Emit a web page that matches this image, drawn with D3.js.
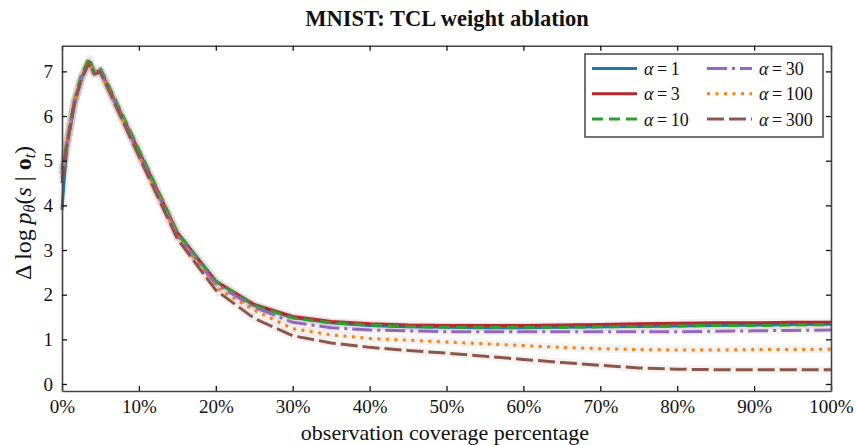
<!DOCTYPE html>
<html>
<head>
<meta charset="utf-8">
<script src="https://cdn.jsdelivr.net/npm/d3@7"></script>
<style>
  body { margin: 0; background: #fff; }
  svg { display: block; }
  text { font-family: "Liberation Serif", "Times New Roman", serif; fill: #111; }
</style>
</head>
<body>
<svg id="chart" width="857" height="445"></svg>
<script>
// ---- data ----
const coverage = [0, 0.6, 1.6, 2.5, 3.5, 4.2, 5, 10, 15, 20, 25, 30, 35, 40, 45, 50, 55, 60, 65, 70, 75, 80, 85, 90, 95, 100];
const alpha1   = [3.9, 5.3, 6.25, 6.82, 7.2, 6.95, 7.0, 5.2, 3.38, 2.3, 1.76, 1.49, 1.37, 1.31, 1.28, 1.27, 1.26, 1.26, 1.27, 1.28, 1.29, 1.30, 1.31, 1.32, 1.33, 1.34];
const alpha3   = [4.7, 5.35, 6.3, 6.85, 7.22, 6.97, 7.02, 5.2, 3.38, 2.3, 1.78, 1.51, 1.4, 1.35, 1.32, 1.31, 1.31, 1.31, 1.32, 1.33, 1.35, 1.36, 1.37, 1.37, 1.38, 1.38];
const alpha10  = [4.8, 5.4, 6.35, 6.9, 7.3, 7.0, 7.06, 5.25, 3.4, 2.3, 1.76, 1.48, 1.37, 1.32, 1.29, 1.27, 1.27, 1.27, 1.27, 1.28, 1.29, 1.30, 1.31, 1.31, 1.32, 1.33];
const alpha30  = [4.6, 5.3, 6.28, 6.82, 7.2, 6.95, 7.0, 5.15, 3.33, 2.24, 1.72, 1.38, 1.26, 1.21, 1.19, 1.17, 1.17, 1.17, 1.17, 1.17, 1.17, 1.17, 1.18, 1.19, 1.20, 1.21];
const alpha100 = [4.7, 5.35, 6.3, 6.84, 7.2, 6.96, 7.0, 5.12, 3.3, 2.16, 1.65, 1.24, 1.1, 1.02, 0.98, 0.94, 0.90, 0.86, 0.82, 0.79, 0.77, 0.76, 0.76, 0.77, 0.77, 0.78];
const alpha300 = [4.5, 5.3, 6.28, 6.82, 7.18, 6.94, 6.98, 5.1, 3.25, 2.1, 1.47, 1.08, 0.92, 0.82, 0.75, 0.69, 0.62, 0.55, 0.48, 0.42, 0.36, 0.33, 0.32, 0.32, 0.32, 0.32];
const seriesNames = ["1", "3", "10", "30", "100", "300"];
const xTicks = [0, 10, 20, 30, 40, 50, 60, 70, 80, 90, 100];
const yTicks = [0, 1, 2, 3, 4, 5, 6, 7];

// ---- styles ----
const styles = [
  { color: "#1f77b4", dash: null },
  { color: "#b8272b", dash: null },
  { color: "#2ca02c", dash: "11,6" },
  { color: "#9467bd", dash: "20,5,3,5" },
  { color: "#ff7f0e", dash: "3,5.5" },
  { color: "#8c564b", dash: "17,5" }
];
const seriesValues = [alpha1, alpha3, alpha10, alpha30, alpha100, alpha300];

const svg = d3.select("#chart");
const mLeft = 62, mRight = 831, mTop = 45.7, mBottom = 391;
const x = d3.scaleLinear().domain([0, 100]).range([mLeft, mRight]);
const y = d3.scaleLinear().domain([-0.157, 7.575]).range([mBottom, mTop]);

const axisColor = "#444";

// halo bands
const line = d3.line().x((d, i) => x(coverage[i])).y(d => y(d));
const g = svg.append("g");
seriesValues.forEach((vals, k) => {
  g.append("path").datum(vals)
    .attr("d", line)
    .attr("fill", "none")
    .attr("stroke", "#b09090")
    .attr("stroke-opacity", 0.12)
    .attr("stroke-width", 8)
    .attr("stroke-linejoin", "round");
});
seriesValues.forEach((vals, k) => {
  g.append("path").datum(vals)
    .attr("d", line)
    .attr("fill", "none")
    .attr("stroke", styles[k].color)
    .attr("stroke-width", 3)
    .attr("stroke-dasharray", styles[k].dash)
    .attr("stroke-linejoin", "round");
});

// axes
function styleAxis(sel) {
  sel.selectAll(".domain").attr("stroke", axisColor).attr("stroke-width", 1.6);
  sel.selectAll(".tick line").attr("stroke", "#111").attr("stroke-width", 1.3);
  sel.selectAll(".tick text").style("font-family", '"Liberation Serif", "Times New Roman", serif')
     .style("font-size", "19px").attr("fill", "#111");
}
const fmtPct = d => d + "%";
svg.append("g").attr("transform", `translate(0,${mBottom})`)
  .call(d3.axisBottom(x).tickValues(xTicks).tickFormat(fmtPct).tickSizeInner(-5).tickSizeOuter(0).tickPadding(9))
  .call(styleAxis);
svg.append("g").attr("transform", `translate(0,${mTop})`)
  .call(d3.axisTop(x).tickValues(xTicks).tickFormat("").tickSizeInner(-5).tickSizeOuter(0))
  .call(styleAxis);
svg.append("g").attr("transform", `translate(${mLeft},0)`)
  .call(d3.axisLeft(y).tickValues(yTicks).tickFormat(d3.format("d")).tickSizeInner(-5).tickSizeOuter(0).tickPadding(9))
  .call(styleAxis);
svg.append("g").attr("transform", `translate(${mRight},0)`)
  .call(d3.axisRight(y).tickValues(yTicks).tickFormat("").tickSizeInner(-5).tickSizeOuter(0))
  .call(styleAxis);

// title
svg.append("text").attr("x", 447).attr("y", 26).attr("text-anchor", "middle")
  .style("font-size", "22.5px").style("font-weight", "bold").text("MNIST: TCL weight ablation");

// x label
svg.append("text").attr("x", 445).attr("y", 440).attr("text-anchor", "middle")
  .style("font-size", "22px").text("observation coverage percentage");

// y label
const yl = svg.append("text").attr("transform", "translate(31,213) rotate(-90)")
  .attr("text-anchor", "middle").style("font-size", "24px");
yl.append("tspan").text("Δ\u2009log\u2009");
yl.append("tspan").style("font-style", "italic").text("p");
yl.append("tspan").style("font-style", "italic").style("font-size", "16px").attr("dy", 4).text("θ");
yl.append("tspan").attr("dy", -4).text("(");
yl.append("tspan").style("font-style", "italic").text("s");
yl.append("tspan").text(" | ");
yl.append("tspan").style("font-weight", "bold").text("o");
yl.append("tspan").style("font-style", "italic").style("font-size", "16px").attr("dy", 4).text("t");
yl.append("tspan").attr("dy", -4).text(")");

// legend
const lg = svg.append("g");
lg.append("rect").attr("x", 585).attr("y", 54).attr("width", 238).attr("height", 83)
  .attr("fill", "#fff").attr("stroke", axisColor).attr("stroke-width", 1.5);
seriesNames.forEach((name, k) => {
  const col = Math.floor(k / 3), row = k % 3;
  const lx = col === 0 ? 592 : 707;
  const ly = 68.5 + row * 25.3;
  lg.append("line").attr("x1", lx).attr("x2", lx + 45).attr("y1", ly).attr("y2", ly)
    .attr("stroke", styles[k].color).attr("stroke-width", 3)
    .attr("stroke-dasharray", styles[k].dash);
  const t = lg.append("text").attr("x", lx + 52).attr("y", ly + 6.5).style("font-size", "18px");
  t.append("tspan").style("font-style", "italic").text("α");
  t.append("tspan").text("\u2009=\u2009" + name);
});
</script>
</body>
</html>
